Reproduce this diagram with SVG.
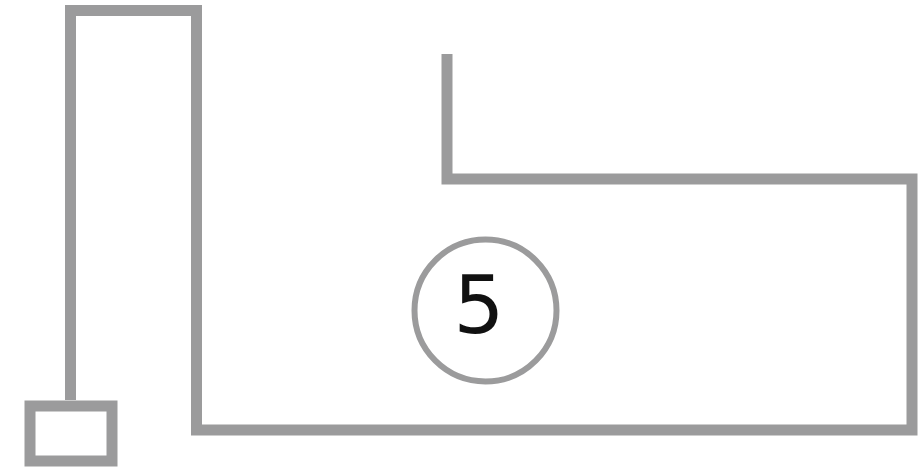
<svg xmlns="http://www.w3.org/2000/svg" width="918" height="471" viewBox="0 0 918 471">
<style>
.ln{fill:none;stroke:#9b9b9c;stroke-width:11;stroke-linejoin:miter;stroke-linecap:butt}
.lbl{font-family:"DejaVu Sans","Noto Sans","Liberation Sans",sans-serif;font-size:80px;fill:#111}
</style>
<rect width="918" height="471" fill="#fff"/>
<g id="connectors">
<path class="ln" d="M70.5 400 V10.5 H196.5 V430 H912 V179 H447 V54"/>
</g>
<g id="box">
<rect class="ln" x="30" y="406" width="82" height="55"/>
</g>
<g id="node5">
<circle cx="485.5" cy="310.5" r="71" fill="none" stroke="#9b9b9c" stroke-width="6"/>
<text class="lbl" x="479" y="333" text-anchor="middle">5</text>
</g>
</svg>
